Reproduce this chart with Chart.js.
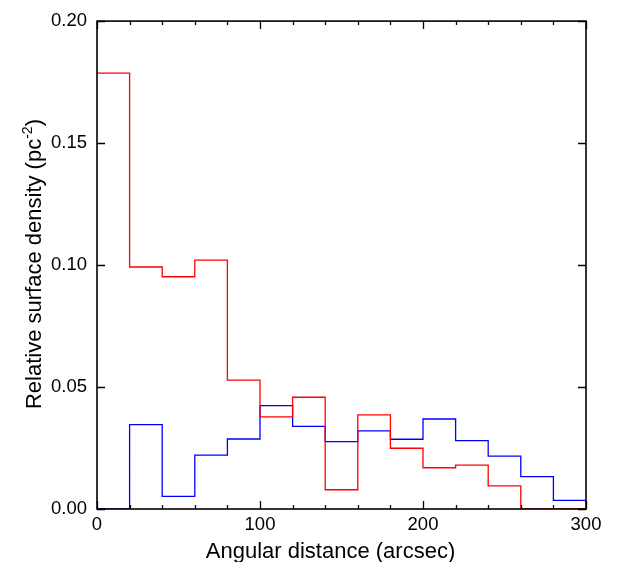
<!DOCTYPE html>
<html>
<head>
<meta charset="utf-8">
<script src="https://cdn.jsdelivr.net/npm/chart.js@4.4.1/dist/chart.umd.min.js"></script>
<style>
  html, body { margin: 0; padding: 0; background: #fff; overflow: hidden; }
  #wrap { width: 626px; height: 562px; position: relative; }
</style>
</head>
<body>
<div id="wrap"><canvas id="chart"></canvas></div>
<script>
  // bin edges (arcsec), 20-arcsec bins
  const binEdges = [0, 20, 40, 60, 80, 100, 120, 140, 160, 180, 200, 220, 240, 260, 280, 300];
  // relative surface density per bin
  const redValues = [0.1787, 0.0992, 0.0952, 0.1020, 0.0528, 0.0378, 0.0458, 0.0079, 0.0386, 0.0249, 0.0169, 0.0180, 0.0095, 0.0, 0.0];
  const blueValues = [0.0, 0.0346, 0.0052, 0.0221, 0.0287, 0.0424, 0.0339, 0.0276, 0.0320, 0.0286, 0.0369, 0.0280, 0.0217, 0.0133, 0.0035];
  const xTickLabels = [0, 100, 200, 300];
  const yTickLabels = [0, 0.05, 0.10, 0.15, 0.20];
  const xTitle = "Angular distance (arcsec)";
  const yTitle = ["Relative surface density (pc", "-2", ")"];

  // one point per left bin edge plus the closing right edge
  function stepPoints(values) {
    const pts = values.map((v, i) => ({ x: binEdges[i], y: v }));
    pts.push({ x: binEdges[binEdges.length - 1], y: values[values.length - 1] });
    return pts;
  }

  const FONT = "'Liberation Sans', Arial, Helvetica, sans-serif";

  // inward ticks on all four sides of the frame
  const frameTicks = {
    id: "frameTicks",
    afterDraw(chart) {
      const { ctx, chartArea: a, scales } = chart;
      const xs = scales.x, ys = scales.y;
      ctx.save();
      ctx.strokeStyle = "#000";
      ctx.lineWidth = 1.3;
      for (let v = 0; v <= 300; v += 20) {
        const px = Math.round(xs.getPixelForValue(v)) + 0.5;
        const len = v % 100 === 0 ? 8 : 4;
        ctx.beginPath();
        ctx.moveTo(px, a.bottom); ctx.lineTo(px, a.bottom - len);
        ctx.moveTo(px, a.top); ctx.lineTo(px, a.top + len);
        ctx.stroke();
      }
      yTickLabels.forEach((v) => {
        const py = Math.round(ys.getPixelForValue(v)) + 0.5;
        ctx.beginPath();
        ctx.moveTo(a.left, py); ctx.lineTo(a.left + 8, py);
        ctx.moveTo(a.right, py); ctx.lineTo(a.right - 8, py);
        ctx.stroke();
      });
      ctx.lineWidth = 1.6;
      ctx.strokeRect(a.left, a.top, a.right - a.left, a.bottom - a.top);
      ctx.restore();
    },
  };

  // axis titles (the y one has a superscript)
  const axisTitles = {
    id: "axisTitles",
    afterDraw(chart) {
      const { ctx, chartArea: a } = chart;
      ctx.save();
      ctx.fillStyle = "#000";
      ctx.textBaseline = "alphabetic";
      ctx.font = `22px ${FONT}`;
      ctx.textAlign = "center";
      ctx.fillText(xTitle, (a.left + a.right) / 2 - 11, 558);

      const big = `22px ${FONT}`, small = `14px ${FONT}`;
      ctx.font = big; const w0 = ctx.measureText(yTitle[0]).width;
      const w2 = ctx.measureText(yTitle[2]).width;
      ctx.font = small; const w1 = ctx.measureText(yTitle[1]).width;
      const total = w0 + w1 + w2;
      ctx.translate(41, (a.top + a.bottom) / 2 - 1);
      ctx.rotate(-Math.PI / 2);
      ctx.textAlign = "left";
      let x = -total / 2;
      ctx.font = big; ctx.fillText(yTitle[0], x, 0); x += w0;
      ctx.font = small; ctx.fillText(yTitle[1], x, -9); x += w1;
      ctx.font = big; ctx.fillText(yTitle[2], x, 0);
      ctx.restore();
    },
  };

  new Chart(document.getElementById("chart"), {
    type: "line",
    data: {
      datasets: [
        {
          label: "red",
          data: stepPoints(redValues),
          borderColor: "#ff0000",
          borderWidth: 1.3,
          stepped: "before",
          pointRadius: 0,
          fill: false,
        },
        {
          label: "blue",
          data: stepPoints(blueValues),
          borderColor: "#0000ff",
          borderWidth: 1.3,
          stepped: "before",
          pointRadius: 0,
          fill: false,
        },
      ],
    },
    options: {
      responsive: true,
      maintainAspectRatio: false,
      animation: false,
      layout: { padding: { top: 17, right: 40, left: 0, bottom: 0 } },
      plugins: { legend: { display: false }, tooltip: { enabled: false } },
      scales: {
        x: {
          type: "linear",
          min: 0,
          max: 300,
          grid: { display: false, drawTicks: false },
          border: { display: false },
          afterBuildTicks: (s) => { s.ticks = xTickLabels.map((v) => ({ value: v })); },
          afterFit: (s) => { s.height = 53; },
          ticks: { color: "#000", font: { family: FONT, size: 18.5 }, padding: 5, maxRotation: 0 },
        },
        y: {
          type: "linear",
          min: 0,
          max: 0.2,
          grid: { display: false, drawTicks: false },
          border: { display: false },
          afterBuildTicks: (s) => { s.ticks = yTickLabels.map((v) => ({ value: v })); },
          afterFit: (s) => { s.width = 97; },
          ticks: {
            color: "#000",
            font: { family: FONT, size: 18.5 },
            padding: 10,
            callback: (v) => Number(v).toFixed(2),
          },
        },
      },
    },
    plugins: [frameTicks, axisTitles],
  });
</script>
</body>
</html>
